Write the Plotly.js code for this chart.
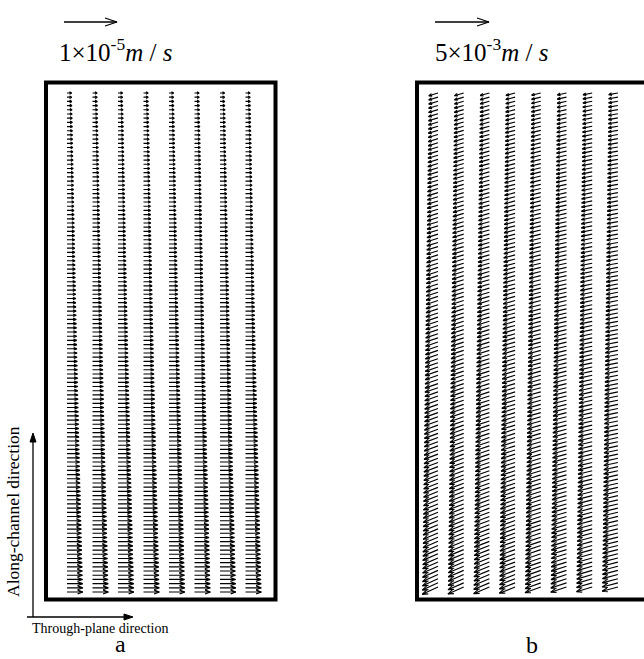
<!DOCTYPE html>
<html><head><meta charset="utf-8">
<script src="https://cdn.plot.ly/plotly-3.0.1.min.js"></script>
<style>html,body{margin:0;padding:0;background:#fff}#chart{width:644px;height:659px}</style>
</head><body><div id="chart"></div>
<script>
// ---------- DATA ----------
// Panel a: through-plane velocity for each row, bottom -> top (units of 1e-6 m/s, +x)
const uA = [
3.00,2.98,2.96,2.94,2.92,2.90,2.88,2.86,2.84,2.82,
2.80,2.78,2.76,2.74,2.72,2.70,2.68,2.66,2.64,2.62,
2.60,2.58,2.56,2.54,2.52,2.50,2.48,2.46,2.44,2.42,
2.40,2.38,2.36,2.34,2.32,2.30,2.28,2.27,2.25,2.23,
2.21,2.19,2.17,2.15,2.13,2.12,2.10,2.08,2.06,2.04,
2.02,2.00,1.99,1.97,1.95,1.93,1.91,1.90,1.88,1.86,
1.84,1.82,1.81,1.79,1.77,1.75,1.74,1.72,1.70,1.68,
1.67,1.65,1.63,1.62,1.60,1.58,1.57,1.55,1.53,1.52,
1.50,1.48,1.47,1.45,1.44,1.42,1.40,1.39,1.37,1.36,
1.34,1.33,1.31,1.30,1.28,1.27,1.25,1.24,1.22,1.21,
1.19,1.18,1.16,1.15,1.13,1.12,1.10,1.09,1.07,1.06,
1.04,1.03,1.01,1.00,0.98,0.96,0.94,0.92,0.90,0.88];
// Panel b: velocity for each row, bottom -> top (units of 1e-3 m/s), pointing -x and -y
const uB = [
1.46,1.45,1.44,1.43,1.43,1.42,1.42,1.41,1.41,1.40,
1.40,1.39,1.39,1.38,1.38,1.37,1.37,1.36,1.36,1.35,
1.35,1.34,1.34,1.33,1.33,1.32,1.32,1.31,1.31,1.30,
1.30,1.29,1.29,1.28,1.28,1.27,1.27,1.26,1.26,1.25,
1.25,1.24,1.24,1.23,1.23,1.22,1.22,1.21,1.21,1.20,
1.20,1.19,1.19,1.18,1.18,1.17,1.17,1.16,1.16,1.15,
1.15,1.14,1.14,1.13,1.13,1.12,1.12,1.11,1.11,1.10,
1.10,1.09,1.09,1.08,1.08,1.07,1.07,1.06,1.06,1.05,
1.05,1.04,1.04,1.03,1.03,1.02,1.02,1.01,1.01,1.00,
1.00,0.99,0.99,0.98,0.98,0.97,0.97,0.96,0.96,0.95,
0.95,0.94,0.94,0.93,0.93,0.92,0.92,0.91,0.91,0.90,
0.90,0.89,0.89,0.88,0.88,0.87,0.87,0.86,0.86,0.85];
const vB = [
0.68,0.67,0.66,0.65,0.64,0.63,0.62,0.62,0.61,0.60,
0.60,0.59,0.58,0.58,0.57,0.57,0.56,0.56,0.55,0.55,
0.54,0.54,0.53,0.53,0.52,0.52,0.51,0.51,0.50,0.50,
0.49,0.49,0.48,0.48,0.48,0.47,0.47,0.46,0.46,0.46,
0.45,0.45,0.44,0.44,0.44,0.43,0.43,0.43,0.42,0.42,
0.42,0.41,0.41,0.41,0.40,0.40,0.40,0.39,0.39,0.39,
0.38,0.38,0.38,0.37,0.37,0.37,0.37,0.36,0.36,0.36,
0.35,0.35,0.35,0.35,0.34,0.34,0.34,0.34,0.33,0.33,
0.33,0.33,0.32,0.32,0.32,0.32,0.31,0.31,0.31,0.31,
0.31,0.30,0.30,0.30,0.30,0.30,0.29,0.29,0.29,0.29,
0.29,0.29,0.28,0.28,0.28,0.28,0.28,0.28,0.28,0.27,
0.27,0.27,0.27,0.27,0.27,0.27,0.26,0.26,0.26,0.26];
// along-channel component in panel b relative to the left column, per column
const vBColFactor = [1.00,0.96,0.91,0.85,0.79,0.72,0.65,0.58];
const columns = [1,2,3,4,5,6,7,8];
const refValueA = 10;   // 1e-5 m/s in units of 1e-6
const refValueB = 5;    // 5e-3 m/s in units of 1e-3
const titleA = '1×10<sup>-5</sup><i>m</i> / <i>s</i>';
const titleB = '5×10<sup>-3</sup><i>m</i> / <i>s</i>';
const labelY = 'Along-channel direction';
const labelX = 'Through-plane direction';
const panelLabels = ['a','b'];

// ---------- GEOMETRY (layout only) ----------
const W = 644, H = 659;
const boxA = {x0:46, x1:275.5, y0:82.5, y1:599.5};
const boxB = {x0:417, x1:646, y0:82.5, y1:599.5};
const scaleA = 5.3;   // px per 1e-6 m/s
const scaleB = 10.8;  // px per 1e-3 m/s
const colStartA = 21, colStepA = 25.5;
const colStartB = 21, colStepB = 25.7;
const rowA0 = 7.5, rowA1 = 506.5;
const rowB0 = 12.5, rowB1 = 506.5;
const FONT = 'Liberation Serif, Times New Roman, serif';

function px(x){return x/W;}
function py(y){return 1 - y/H;}

function addArrow(X, Y, x, y, dx, dy, opt){
  const L = Math.hypot(dx, dy);
  if (L === 0) return;
  const ex = dx/L, ey = dy/L, nx = -ey, ny = ex;
  const h = Math.max(opt.hf*L, opt.hmin), w = Math.max(opt.wf*L, opt.wmin);
  const tx = x+dx, ty = y+dy;
  X.push(x, tx, tx - h*ex + w*nx, null, tx - h*ex - w*nx, tx, null);
  Y.push(y, ty, ty - h*ey + w*ny, null, ty - h*ey - w*ny, ty, null);
}

const headOpt = {hf:0.33, hmin:2.2, wf:0.12, wmin:1.3};
const ax=[], ay=[], bx=[], by=[];
const nA = uA.length, nB = Math.min(uB.length, vB.length);
for (let c = 0; c < columns.length; c++){
  const xa = colStartA + c*colStepA;
  for (let i = 0; i < nA; i++){
    const y = rowA0 + i*(rowA1-rowA0)/(nA-1);
    addArrow(ax, ay, xa, y, uA[i]*scaleA, 0, headOpt);
  }
  const xb = colStartB + c*colStepB;
  for (let i = 0; i < nB; i++){
    const y = rowB0 + i*(rowB1-rowB0)/(nB-1);
    addArrow(bx, by, xb, y, -uB[i]*scaleB, -vB[i]*vBColFactor[c]*scaleB, headOpt);
  }
}

const traces = [
  {type:'scatter', mode:'lines', x:ax, y:ay, xaxis:'x', yaxis:'y',
   line:{color:'#000', width:1.15}, hoverinfo:'skip'},
  {type:'scatter', mode:'lines', x:bx, y:by, xaxis:'x2', yaxis:'y2',
   line:{color:'#000', width:1.15}, hoverinfo:'skip'}
];

// overlay (page pixel coords) for scale arrows & direction arrows
const ox=[], oy=[];
function openArrow(x, y, len){
  const tx = x+len;
  ox.push(x, tx, null, tx-12, tx, tx-12, null);
  oy.push(y, y, null, y-4, y, y+4, null);
}
openArrow(64, 22, refValueA*scaleA);
openArrow(435, 22, refValueB*scaleB);
traces.push({type:'scatter', mode:'lines', x:ox, y:oy, xaxis:'x3', yaxis:'y3',
  line:{color:'#000', width:1.3}, hoverinfo:'skip'});
// direction axes
traces.push({type:'scatter', mode:'lines', x:[33,33,null,27,126], y:[617,440,null,617,617],
  xaxis:'x3', yaxis:'y3', line:{color:'#000', width:1.3}, hoverinfo:'skip'});
traces.push({type:'scatter', mode:'lines', x:[30,33,36,30], y:[442,433,442,442], fill:'toself',
  fillcolor:'#000', xaxis:'x3', yaxis:'y3', line:{color:'#000', width:1}, hoverinfo:'skip'});
traces.push({type:'scatter', mode:'lines', x:[124,133,124,124], y:[614,617,620,614], fill:'toself',
  fillcolor:'#000', xaxis:'x3', yaxis:'y3', line:{color:'#000', width:1}, hoverinfo:'skip'});

const hidden = {visible:false, fixedrange:true};
const layout = {
  width:W, height:H, margin:{l:0,r:0,t:0,b:0}, showlegend:false,
  paper_bgcolor:'#fff', plot_bgcolor:'rgba(0,0,0,0)',
  xaxis: Object.assign({domain:[px(boxA.x0), px(boxA.x1)], range:[0, boxA.x1-boxA.x0], anchor:'y'}, hidden),
  yaxis: Object.assign({domain:[py(boxA.y1), py(boxA.y0)], range:[0, boxA.y1-boxA.y0], anchor:'x'}, hidden),
  xaxis2: Object.assign({domain:[px(boxB.x0), 1], range:[0, W-boxB.x0], anchor:'y2'}, hidden),
  yaxis2: Object.assign({domain:[py(boxB.y1), py(boxB.y0)], range:[0, boxB.y1-boxB.y0], anchor:'x2'}, hidden),
  xaxis3: Object.assign({domain:[0,1], range:[0,W], anchor:'y3'}, hidden),
  yaxis3: Object.assign({domain:[0,1], range:[H,0], anchor:'x3'}, hidden),
  shapes: [boxA, boxB].map(b => ({type:'rect', xref:'paper', yref:'paper',
    x0:px(b.x0), x1:px(b.x1), y0:py(b.y1), y1:py(b.y0), line:{color:'#000', width:4}, layer:'above'})),
  annotations: [
    {text:titleA, x:px(57), y:py(50), xref:'paper', yref:'paper', xanchor:'left', yanchor:'middle',
     showarrow:false, font:{family:FONT, size:25, color:'#000'}},
    {text:titleB, x:px(433), y:py(50), xref:'paper', yref:'paper', xanchor:'left', yanchor:'middle',
     showarrow:false, font:{family:FONT, size:25, color:'#000'}},
    {text:labelY, x:px(13), y:py(512), xref:'paper', yref:'paper', xanchor:'center', yanchor:'middle',
     textangle:-90, showarrow:false, font:{family:FONT, size:17.5, color:'#000'}},
    {text:labelX, x:px(30), y:py(628), xref:'paper', yref:'paper', xanchor:'left', yanchor:'middle',
     showarrow:false, font:{family:FONT, size:14, color:'#000'}},
    {text:panelLabels[0], x:px(120), y:py(644), xref:'paper', yref:'paper', xanchor:'center', yanchor:'middle',
     showarrow:false, font:{family:FONT, size:24, color:'#000'}},
    {text:panelLabels[1], x:px(532), y:py(645), xref:'paper', yref:'paper', xanchor:'center', yanchor:'middle',
     showarrow:false, font:{family:FONT, size:24, color:'#000'}}
  ]
};
Plotly.newPlot('chart', traces, layout, {staticPlot:true, displayModeBar:false});
</script></body></html>
